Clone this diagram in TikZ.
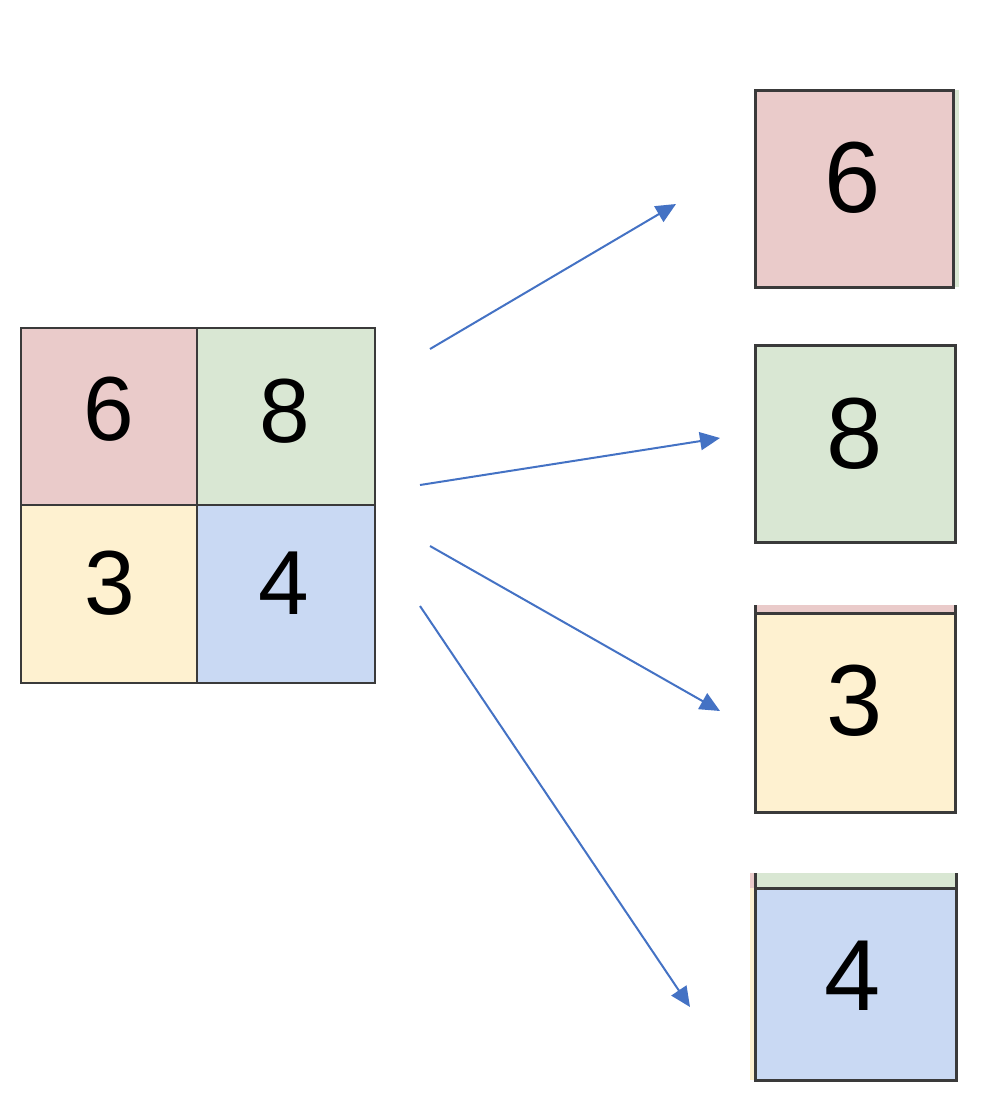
\documentclass[tikz,border=0pt]{standalone}
\usepackage{fontspec}
\setmainfont{Liberation Sans}
\usetikzlibrary{arrows.meta}
\definecolor{cellred}{HTML}{EACBCA}
\definecolor{cellgreen}{HTML}{D9E7D3}
\definecolor{cellyellow}{HTML}{FEF1D0}
\definecolor{cellblue}{HTML}{C9D9F3}
\definecolor{edgegray}{HTML}{3A3A3A}
\definecolor{arrowblue}{HTML}{4472C4}
\tikzset{
  gridcell/.style={draw=edgegray, line width=2.5pt},
  tilebox/.style={draw=edgegray, line width=3pt},
  sliver/.style={draw=none},
  smalldigit/.style={inner sep=0pt, font=\fontsize{91}{91}\selectfont},
  bigdigit/.style={inner sep=0pt, font=\fontsize{101}{101}\selectfont},
  flow/.style={draw=arrowblue, line width=2pt,
    -{Triangle[length=20pt,width=18pt]}}
}
\begin{document}
\begin{tikzpicture}[x=1pt,y=-1pt]
\useasboundingbox (0,0) rectangle (982,1098);

% 2x2 input grid
\fill[cellred]    (21,328) rectangle (197,505);
\fill[cellgreen]  (197,328) rectangle (375,505);
\fill[cellyellow] (21,505) rectangle (197,683);
\fill[cellblue]   (197,505) rectangle (375,683);
\draw[gridcell] (21,328) rectangle (375,683);
\draw[gridcell] (197,328) -- (197,683);
\draw[gridcell] (21,505) -- (375,505);
\node[smalldigit] (g6) at (109,409) {6};
\node[smalldigit] (g8) at (285,411) {8};
\node[smalldigit] (g3) at (110,583) {3};
\node[smalldigit] (g4) at (284,583) {4};

% edges of neighbouring tiles showing around the separated tiles
\fill[cellgreen]  (953,90) rectangle (959,287);
\fill[cellred]    (755,605) rectangle (955,613);
\fill[cellgreen]  (755,873) rectangle (956,888);
\fill[cellyellow] (750,888) rectangle (755,1080);
\fill[cellred]    (750,873) rectangle (755,888);

% separated tiles
\fill[cellred]    (755,90) rectangle (953,287);
\draw[tilebox] (755,90) -- (755,287) -- (953,287) -- (953,90) -- cycle;
\node[bigdigit] (t6) at (853,178) {6};

\fill[cellgreen]  (755,345) rectangle (955,542);
\draw[tilebox] (755,345) rectangle (955,542);
\node[bigdigit] (t8) at (855,434) {8};

\fill[cellyellow] (755,613) rectangle (955,812);
\draw[tilebox] (755,605) -- (755,812) -- (955,812) -- (955,605);
\draw[tilebox] (755,613) -- (955,613);
\node[bigdigit] (t3) at (855,701) {3};

\fill[cellblue]   (755,888) rectangle (956,1080);
\draw[tilebox] (755,873) -- (755,1080) -- (956,1080) -- (956,873);
\draw[tilebox] (755,888) -- (956,888);
\node[bigdigit] (t4) at (853,976) {4};

% arrows
\coordinate (s1) at (430,349);
\coordinate (e1) at (676,204);
\coordinate (s2) at (420,485);
\coordinate (e2) at (720,438);
\coordinate (s3) at (430,546);
\coordinate (e3) at (720,711);
\coordinate (s4) at (420,606);
\coordinate (e4) at (690,1007);
\draw[flow] (s1) -- (e1);
\draw[flow] (s2) -- (e2);
\draw[flow] (s3) -- (e3);
\draw[flow] (s4) -- (e4);
\end{tikzpicture}
\end{document}
